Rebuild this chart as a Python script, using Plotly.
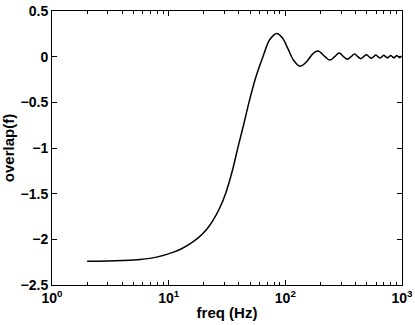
import plotly.graph_objects as go

# values
freq = [2.0, 3.0, 4.0, 5.7, 7.9, 11.0, 13.0, 15.2, 18.0, 21.2, 24.0, 27.5, 31.0,
        35.0, 39.3, 44.0, 48.8, 56.0, 64.3, 73.8, 84.7, 95.0, 105, 117, 133.4,
        152, 173.6, 191, 218.5, 241, 265, 290, 315, 340, 366, 392, 418, 443, 469,
        494, 520, 545, 571, 596, 622, 647, 673, 698, 724, 749, 775, 800, 826, 851,
        877, 902, 928, 953, 978, 1000]
overlap = [-2.24, -2.237, -2.232, -2.22, -2.195, -2.14, -2.10, -2.05, -1.982, -1.89,
           -1.793, -1.652, -1.486, -1.258, -0.99, -0.74, -0.5, -0.22, 0.0, 0.19, 0.255,
           0.20, 0.09, -0.035, -0.105, -0.055, 0.037, 0.062, 0.0, -0.037, 0.0,
           0.04, 0.0, -0.028, 0.0, 0.03, 0.0, -0.022, 0.0, 0.022, 0.0, -0.018, 0.0,
           0.018, 0.0, -0.015, 0.0, 0.015, 0.0, -0.013, 0.0, 0.013, 0.0, -0.012,
           0.0, 0.012, 0.0, -0.011, 0.0, 0.005]

x_ticks = [1, 10, 100, 1000]
x_ticktext = ["10<sup>0</sup>", "10<sup>1</sup>", "10<sup>2</sup>", "10<sup>3</sup>"]
y_ticks = [-2.5, -2, -1.5, -1, -0.5, 0, 0.5]
y_ticktext = ["\u22122.5", "\u22122", "\u22121.5", "\u22121", "\u22120.5", "0", "0.5"]
minor_x = [m * 10 ** d for d in range(3) for m in range(2, 10)]

family = "Liberation Sans, Arial, sans-serif"
tick_font = dict(family=family, size=14, color="black", weight="bold")
title_font = dict(family=family, size=15, color="black")

fig = go.Figure(go.Scatter(
    x=freq, y=overlap, mode="lines",
    line=dict(color="black", width=1.5, shape="spline"),
    showlegend=False,
))

fig.update_layout(
    width=415, height=325,
    margin=dict(l=52, r=13, t=11, b=40),
    paper_bgcolor="white", plot_bgcolor="white",
    xaxis=dict(
        type="log", range=[0, 3], automargin=False,
        tickmode="array", tickvals=x_ticks, ticktext=x_ticktext,
        ticks="inside", ticklen=5, tickcolor="black",
        minor=dict(tickmode="array", tickvals=minor_x, ticks="inside",
                   ticklen=3, tickcolor="black", showgrid=False),
        showline=True, linecolor="black", linewidth=1, mirror="ticks",
        showgrid=False, zeroline=False,
        tickfont=tick_font,
        title=dict(text="<b>freq (Hz)</b>", standoff=2, font=title_font),
    ),
    yaxis=dict(
        range=[-2.5, 0.5], automargin=False,
        tickmode="array", tickvals=y_ticks, ticktext=y_ticktext,
        ticks="inside", ticklen=5, tickcolor="black",
        showline=True, linecolor="black", linewidth=1, mirror="ticks",
        showgrid=False, zeroline=False,
        tickfont=tick_font,
        title=dict(text="<b>overlap(f)</b>", standoff=2, font=title_font),
    ),
)

# drop the browser's default body margin so the figure sits at the page corner
fig.write_html("out.html", config={"displayModeBar": False},
               post_script="document.body.style.margin='0';")
